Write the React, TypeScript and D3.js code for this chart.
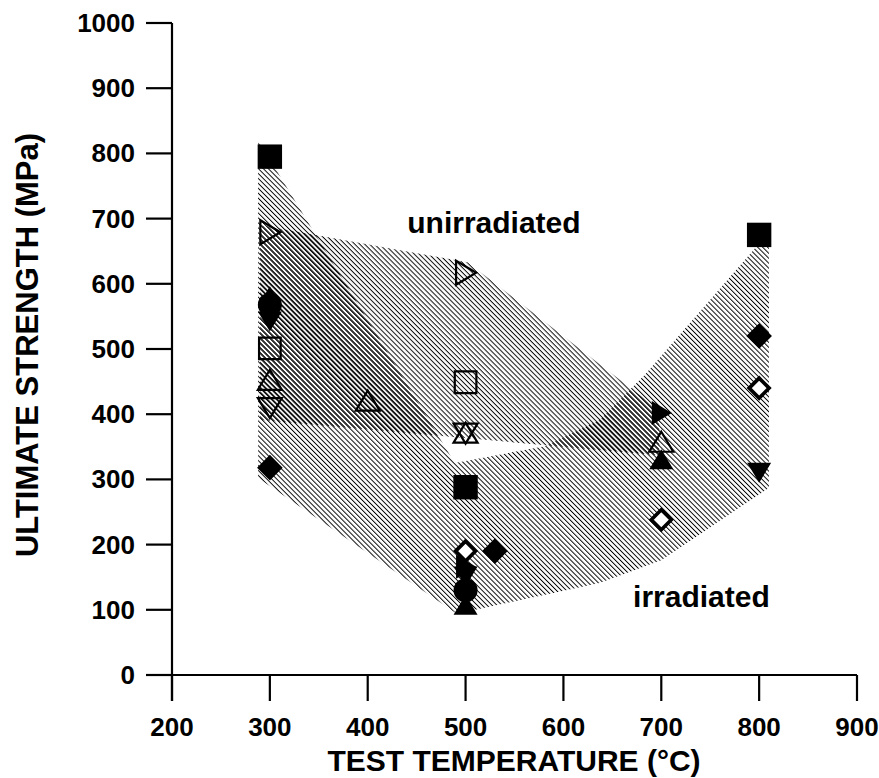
import React from "react";
import * as d3 from "d3";

// ---- data ----
const xTicks = [200, 300, 400, 500, 600, 700, 800, 900];
const yTicks = [0, 100, 200, 300, 400, 500, 600, 700, 800, 900, 1000];

// envelope of the irradiated data (temperature °C, strength MPa)
const irradiatedBand: [number, number][] = [
  [288, 820], [489, 325], [581, 351], [637, 391], [683, 460], [810, 679],
  [810, 287], [700, 176], [637, 141], [491, 94], [288, 302],
];
// envelope of the unirradiated data
const unirradiatedBand: [number, number][] = [
  [290, 690], [502, 633], [698, 406], [698, 337], [290, 391],
];

const filledSquare: [number, number][] = [[300, 795], [500, 288], [800, 675]];
const filledDiamond: [number, number][] = [[300, 318], [530, 190], [800, 520]];
const filledCircle: [number, number][] = [[300, 568], [500, 130]];
const filledUp: [number, number][] = [[300, 580], [500, 107], [700, 330]];
const filledDown: [number, number][] = [[300, 543], [500, 152], [800, 311]];
const filledRight: [number, number][] = [[500, 166], [700, 402]];
const openSquare: [number, number][] = [[300, 501], [500, 449]];
const openDiamond: [number, number][] = [[500, 190], [700, 238], [800, 440]];
const openUp: [number, number][] = [[300, 452], [400, 420], [500, 371], [700, 357]];
const openDown: [number, number][] = [[300, 410], [500, 371]];
const openRight: [number, number][] = [[300, 679], [500, 617]];

type Shape = "square" | "diamond" | "circle" | "up" | "down" | "right";
const seriesList: { shape: Shape; filled: boolean; points: [number, number][] }[] = [
  { shape: "square", filled: true, points: filledSquare },
  { shape: "diamond", filled: true, points: filledDiamond },
  { shape: "up", filled: true, points: filledUp },
  { shape: "circle", filled: true, points: filledCircle },
  { shape: "down", filled: true, points: filledDown },
  { shape: "right", filled: true, points: filledRight },
  { shape: "square", filled: false, points: openSquare },
  { shape: "diamond", filled: false, points: openDiamond },
  { shape: "up", filled: false, points: openUp },
  { shape: "down", filled: false, points: openDown },
  { shape: "right", filled: false, points: openRight },
];

const labelUnirr = { text: "unirradiated", t: 529, s: 678 };
const labelIrr = { text: "irradiated", t: 741, s: 104 };

// ---- layout ----
const W = 879;
const H = 778;
const FONT = "'Liberation Sans', Arial, Helvetica, sans-serif";

function markerPath(shape: Shape, filled: boolean): string {
  switch (shape) {
    case "square": {
      const h = filled ? 12.2 : 10.8;
      return `M${-h},${-h}H${h}V${h}H${-h}Z`;
    }
    case "diamond": {
      const h = filled ? 12.8 : 10;
      return `M0,${-h}L${h},0L0,${h}L${-h},0Z`;
    }
    case "circle": {
      const r = 12;
      return `M${r},0A${r},${r} 0 1,1 ${-r},0A${r},${r} 0 1,1 ${r},0Z`;
    }
    case "up":
      return `M0,-10.5L12,9.5H-12Z`;
    case "down":
      return `M0,10.5L12,-9.5H-12Z`;
    case "right":
      return `M10.5,0L-9.5,-12V12Z`;
  }
}

export default function App() {
  const x = d3.scaleLinear().domain([200, 900]).range([172, 857]);
  const y = d3.scaleLinear().domain([0, 1000]).range([675, 23]);
  const line = d3
    .line<[number, number]>()
    .x((d) => x(d[0]))
    .y((d) => y(d[1]))
    .curve(d3.curveLinearClosed);

  const axisW = 2.2;
  const tickLen = 26;

  return (
    <svg
      width={W}
      height={H}
      style={{ position: "absolute", left: 0, top: 0, background: "#fff" }}
      fontFamily={FONT}
    >
      <defs>
        <pattern id="hatchI" patternUnits="userSpaceOnUse" width={3.5} height={10} patternTransform="rotate(-45)">
          <rect x={0} y={0} width={0.95} height={10} fill="#000" />
        </pattern>
        <pattern id="hatchU" patternUnits="userSpaceOnUse" width={3.5} height={10} patternTransform="rotate(-45)">
          <rect x={0.75} y={0} width={0.95} height={10} fill="#000" />
        </pattern>
      </defs>
      <rect x={0} y={0} width={W} height={H} fill="#fff" />

      <path d={line(irradiatedBand) || ""} fill="url(#hatchI)" stroke="none" />
      <path d={line(unirradiatedBand) || ""} fill="url(#hatchU)" stroke="none" />

      {/* axes */}
      <line x1={x(200)} x2={x(200)} y1={y(1000)} y2={y(0) + tickLen} stroke="#000" strokeWidth={axisW} />
      <line x1={x(200) - tickLen} x2={x(900)} y1={y(0)} y2={y(0)} stroke="#000" strokeWidth={axisW} />
      {yTicks.map((v) => (
        <g key={"y" + v}>
          <line x1={x(200) - tickLen} x2={x(200)} y1={y(v)} y2={y(v)} stroke="#000" strokeWidth={axisW} />
          <text
            x={135}
            y={y(v)}
            textAnchor="end"
            dominantBaseline="central"
            fontSize={26}
            fontWeight="bold"
          >
            {v}
          </text>
        </g>
      ))}
      {xTicks.map((v) => (
        <g key={"x" + v}>
          <line x1={x(v)} x2={x(v)} y1={y(0)} y2={y(0) + tickLen} stroke="#000" strokeWidth={axisW} />
          <text x={x(v)} y={736} textAnchor="middle" fontSize={26} fontWeight="bold">
            {v}
          </text>
        </g>
      ))}
      <text x={514} y={771} textAnchor="middle" fontSize={30} fontWeight="bold">
        TEST TEMPERATURE (°C)
      </text>
      <text
        transform={`translate(38,345) rotate(-90)`}
        textAnchor="middle"
        fontSize={31}
        fontWeight="bold"
      >
        ULTIMATE STRENGTH (MPa)
      </text>

      {/* markers */}
      {seriesList.map((s, i) =>
        s.points.map((p, j) => (
          <path
            key={i + "-" + j}
            d={markerPath(s.shape, s.filled)}
            transform={`translate(${x(p[0])},${y(p[1])})`}
            fill={s.filled ? "#000" : s.shape === "diamond" ? "#fff" : "none"}
            stroke="#000"
            strokeWidth={s.filled ? 0 : s.shape === "diamond" ? 3.6 : 2.2}
            strokeLinejoin="miter"
          />
        ))
      )}

      <text x={x(labelUnirr.t)} y={y(labelUnirr.s)} textAnchor="middle" fontSize={30} fontWeight="bold">
        {labelUnirr.text}
      </text>
      <text x={x(labelIrr.t)} y={y(labelIrr.s)} textAnchor="middle" fontSize={30} fontWeight="bold">
        {labelIrr.text}
      </text>
    </svg>
  );
}
